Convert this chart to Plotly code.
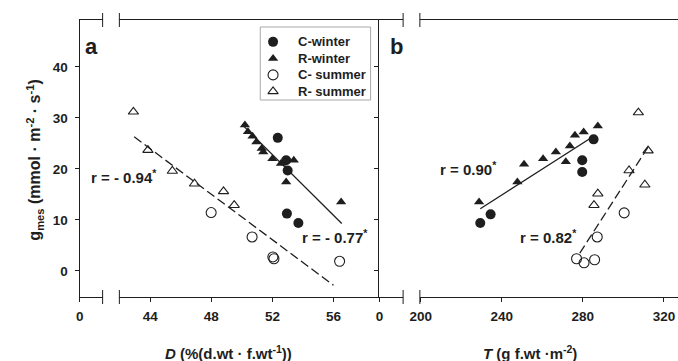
import plotly.graph_objects as go

W, H = 678, 361

# ---- data: panel a (D, % d.wt/f.wt) ----
a_cw_D = [52.35, 52.9, 53.0, 52.95, 53.7]
a_cw_g = [26.1, 21.7, 19.7, 11.25, 9.4]
a_rw_D = [50.2, 50.4, 50.7, 50.95, 51.3, 51.4, 52.0, 52.56, 53.4, 52.9, 56.5]
a_rw_g = [28.6, 27.3, 26.4, 25.3, 24.0, 23.3, 22.0, 21.05, 21.7, 17.45, 13.5]
a_cs_D = [47.99, 50.67, 52.03, 52.1, 56.4]
a_cs_g = [11.45, 6.67, 2.75, 2.4, 1.9]
a_rs_D = [42.9, 43.85, 45.45, 46.9, 48.8, 49.5]
a_rs_g = [31.2, 23.7, 19.6, 17.1, 15.6, 12.9]

# ---- data: panel b (T, g f.wt/m2) ----
b_cw_T = [285.3, 279.7, 279.7, 234.5, 229.4]
b_cw_g = [25.8, 21.7, 19.4, 11.1, 9.4]
b_rw_T = [228.8, 247.7, 251.0, 260.4, 266.7, 271.6, 273.6, 276.1, 280.4, 287.4]
b_rw_g = [13.5, 17.45, 20.9, 22.0, 23.3, 21.4, 24.5, 26.6, 27.25, 28.4]
b_cs_T = [300.4, 287.1, 276.9, 280.6, 285.8]
b_cs_g = [11.4, 6.67, 2.4, 1.6, 2.2]
b_rs_T = [307.4, 312.2, 302.8, 310.6, 287.4, 285.5]
b_rs_g = [31.06, 23.6, 19.7, 16.9, 15.15, 12.9]

# regression line end points
fit_a_w_x, fit_a_w_y = [50.05, 56.54], [28.6, 9.3]
fit_a_s_x, fit_a_s_y = [42.95, 56.0], [26.3, -2.8]
fit_b_w_x, fit_b_w_y = [229.4, 285.3], [12.2, 26.4]
fit_b_s_x, fit_b_s_y = [278.5, 312.2], [3.5, 24.3]

r_labels = ["r = - 0.94<sup>*</sup>", "r = - 0.77<sup>*</sup>",
            "r = 0.90<sup>*</sup>", "r = 0.82<sup>*</sup>"]
series_names = ["C-winter", "R-winter", "C- summer", "R- summer"]

a_ticks = [44, 48, 52, 56]
b_ticks = [200, 240, 280, 320]
g_ticks = [0, 10, 20, 30, 40]


def fx(p):
    return p / W


def fy(p):
    return 1 - p / H


FONT = "Liberation Sans, Arial, sans-serif"
INK = "#1e1e1e"
MS = 9

styles = [
    dict(symbol="circle", color=INK, size=MS + 1),
    dict(symbol="triangle-up", color=INK, size=MS),
    dict(symbol="circle-open", color=INK, size=MS + 1, line=dict(width=1.1, color=INK)),
    dict(symbol="triangle-up-open", color=INK, size=MS, line=dict(width=1.1, color=INK)),
]

fig = go.Figure()

# empty traces so the short "0" axis stubs get their own subplots
fig.add_trace(go.Scatter(x=[], y=[], xaxis="x", yaxis="y", showlegend=False,
                         hoverinfo="skip"))
fig.add_trace(go.Scatter(x=[], y=[], xaxis="x3", yaxis="y2", showlegend=False,
                         hoverinfo="skip"))

a_sets = [(a_cw_D, a_cw_g), (a_rw_D, a_rw_g), (a_cs_D, a_cs_g), (a_rs_D, a_rs_g)]
b_sets = [(b_cw_T, b_cw_g), (b_rw_T, b_rw_g), (b_cs_T, b_cs_g), (b_rs_T, b_rs_g)]

for name, st, (x, y) in zip(series_names, styles, a_sets):
    fig.add_trace(go.Scatter(x=x, y=y, mode="markers", name=name, marker=st,
                             xaxis="x2", yaxis="y", showlegend=False))
for name, st, (x, y) in zip(series_names, styles, b_sets):
    fig.add_trace(go.Scatter(x=x, y=y, mode="markers", name=name, marker=st,
                             xaxis="x4", yaxis="y2", showlegend=False))

for x, y, dash, xa, ya in [
    (fit_a_w_x, fit_a_w_y, "solid", "x2", "y"),
    (fit_a_s_x, fit_a_s_y, "9px,4px", "x2", "y"),
    (fit_b_w_x, fit_b_w_y, "solid", "x4", "y2"),
    (fit_b_s_x, fit_b_s_y, "9px,4px", "x4", "y2"),
]:
    fig.add_trace(go.Scatter(x=x, y=y, mode="lines", showlegend=False,
                             line=dict(color=INK, width=1.3, dash=dash),
                             xaxis=xa, yaxis=ya, hoverinfo="skip"))

# compact key box: a hidden axis pair whose units are the box's own rows
LEG_L, LEG_R, LEG_T, LEG_B = 254, 366, 27, 100
legend_rows = [0, 1, 2, 3]
for row, name, st in zip(legend_rows, series_names, styles):
    fig.add_trace(go.Scatter(x=[0], y=[row], mode="markers", marker=st,
                             xaxis="x5", yaxis="y3", showlegend=False,
                             hoverinfo="skip"))

top, bottom = 20, 297
ydom = [fy(bottom), fy(top)]
g_range = [-5.1, 49.2]

tickfont = dict(family=FONT, size=13.5, color=INK, weight="bold")
common_x = dict(showgrid=False, zeroline=False, showline=True, linecolor=INK,
                linewidth=1.2, mirror=True, ticks="outside", ticklen=4,
                tickcolor=INK, tickwidth=1, tickfont=tickfont,
                ticklabelstandoff=3)
hidden = dict(visible=False, showgrid=False, zeroline=False, fixedrange=True)

fig.update_layout(
    width=W, height=H, margin=dict(l=0, r=0, t=0, b=0),
    paper_bgcolor="white", plot_bgcolor="white",
    font=dict(family=FONT, color=INK),
    showlegend=False,
    xaxis=dict(domain=[fx(70.7), fx(94)], range=[0, 1], tickvals=[0],
               ticktext=["0"], anchor="y", **common_x),
    xaxis2=dict(domain=[fx(111), fx(375)], range=[41.98, 59.01],
                tickvals=a_ticks, anchor="y", **common_x),
    xaxis3=dict(domain=[fx(375), fx(399)], range=[0, 1], tickvals=[0],
                ticktext=["0"], anchor="y2", **common_x),
    xaxis4=dict(domain=[fx(416), 1.0], range=[199.6, 326.95],
                tickvals=b_ticks, anchor="y2", **common_x),
    yaxis=dict(domain=ydom, range=g_range, tickvals=g_ticks, anchor="x",
               showgrid=False, zeroline=False, showline=True, linecolor=INK,
               linewidth=1.2, ticks="outside", ticklen=4, tickcolor=INK,
               tickfont=tickfont, ticklabelstandoff=4),
    yaxis2=dict(domain=ydom, range=g_range, tickvals=g_ticks, anchor="x3",
                showgrid=False, zeroline=False, showline=True, linecolor=INK,
                linewidth=1.2, ticks="outside", ticklen=4, tickcolor=INK,
                showticklabels=False),
    # key area: x in units where marker sits at 0; rows 0..3 top to bottom
    xaxis5=dict(domain=[fx(LEG_L), fx(LEG_R)], range=[-13, 99], anchor="y3", **hidden),
    yaxis3=dict(domain=[fy(LEG_B), fy(LEG_T)], range=[3.52, -0.9], anchor="x5", **hidden),
)

shapes = []
# axis break marks on the top and bottom frame lines
for xp in [94, 111, 399, 416]:
    for yp in [top, bottom]:
        shapes.append(dict(type="line", xref="paper", yref="paper",
                           x0=fx(xp), x1=fx(xp), y0=fy(yp - 7), y1=fy(yp + 7),
                           line=dict(color=INK, width=1)))
# key frame
shapes.append(dict(type="rect", xref="paper", yref="paper",
                   x0=fx(LEG_L), x1=fx(LEG_R), y0=fy(LEG_B), y1=fy(LEG_T),
                   line=dict(color="#a8a8a8", width=1)))
fig.update_layout(shapes=shapes)

ann = []
for row, name in zip(legend_rows, series_names):
    ann.append(dict(text=name, x=23, y=row, xref="x5", yref="y3",
                    xanchor="left", font=dict(size=13, weight="bold")))
ann.append(dict(text="a", x=fx(83), y=fy(46), font=dict(size=22, weight="bold")))
ann.append(dict(text="b", x=fx(392), y=fy(46), font=dict(size=22, weight="bold")))
for txt, xp, yp in zip(r_labels, [116, 330, 465, 547], [176, 237, 168, 236]):
    ann.append(dict(text=txt, x=fx(xp), y=fy(yp), font=dict(size=15, weight="bold")))
ann.append(dict(text="<i>D</i> (%(d.wt · f.wt<sup>-1</sup>))", x=fx(222), y=fy(352),
                font=dict(size=15, weight="bold")))
ann.append(dict(text="<i>T</i> (g f.wt ·m<sup>-2</sup>)", x=fx(528), y=fy(352),
                font=dict(size=15, weight="bold")))
ann.append(dict(text="g<sub>mes</sub> (mmol · m<sup>-2</sup> · s<sup>-1</sup>)",
                x=fx(25), y=fy(160), textangle=-90,
                font=dict(size=16, weight="bold")))
for a in ann:
    a.setdefault("xref", "paper")
    a.setdefault("yref", "paper")
    a.setdefault("xanchor", "center")
    a.update(showarrow=False, yanchor="middle")
    a["font"].update(family=FONT, color=INK)
fig.update_layout(annotations=ann)

fig.write_html("out.html")
